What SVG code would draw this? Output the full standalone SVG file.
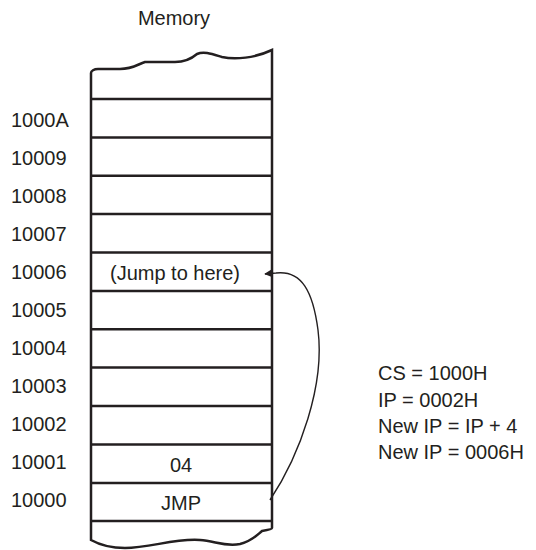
<svg xmlns="http://www.w3.org/2000/svg" width="536" height="550" viewBox="0 0 536 550">
<style>
text{font-family:"Liberation Sans",Arial,sans-serif;font-size:20px;fill:#231f20}
.c{text-anchor:middle}
.b{fill:none;stroke:#231f20;stroke-width:2.5}
.l{stroke:#231f20;stroke-width:2.5}
</style>
<defs>
<marker id="ah" viewBox="0 0 10 10" refX="9" refY="5" markerWidth="13" markerHeight="8" markerUnits="userSpaceOnUse" orient="auto">
<path d="M0,0 L10,5 L0,10 z" fill="#231f20"/>
</marker>
</defs>
<text class="c" x="174" y="25">Memory</text>
<g id="memory">
<path class="b" d="M272,50 C255,58 235,60 222,57 C212,54 204,51 197,54 C190,60 183,62 175,62 L145,62 C138,64 133,69 120,69 L98,69 C94,69 91,71 91,73 L91,540 C100,545 110,548 125,548 C150,548 175,538 200,540 C215,541 225,547 240,544 C252,541 257,535 262,531 C268,530 272,529 272,528 Z"/>
<line class="l" x1="91" y1="99" x2="272" y2="99"/>
<line class="l" x1="91" y1="137.4" x2="272" y2="137.4"/>
<line class="l" x1="91" y1="175.7" x2="272" y2="175.7"/>
<line class="l" x1="91" y1="214.1" x2="272" y2="214.1"/>
<line class="l" x1="91" y1="252.5" x2="272" y2="252.5"/>
<line class="l" x1="91" y1="290.9" x2="272" y2="290.9"/>
<line class="l" x1="91" y1="329.2" x2="272" y2="329.2"/>
<line class="l" x1="91" y1="367.6" x2="272" y2="367.6"/>
<line class="l" x1="91" y1="406" x2="272" y2="406"/>
<line class="l" x1="91" y1="444.4" x2="272" y2="444.4"/>
<line class="l" x1="91" y1="483" x2="272" y2="483"/>
<line class="l" x1="91" y1="521" x2="272" y2="521"/>
</g>
<g id="labels">
<text x="11" y="127">1000A</text>
<text x="11" y="165">10009</text>
<text x="11" y="203">10008</text>
<text x="11" y="241">10007</text>
<text x="11" y="279">10006</text>
<text x="11" y="317">10005</text>
<text x="11" y="355">10004</text>
<text x="11" y="393">10003</text>
<text x="11" y="431">10002</text>
<text x="11" y="469">10001</text>
<text x="11" y="507">10000</text>
</g>
<g id="cell-10006"><text class="c" x="175" y="280">(Jump to here)</text></g>
<g id="cell-10001"><text class="c" x="181" y="472">04</text></g>
<g id="cell-10000"><text class="c" x="181" y="510">JMP</text></g>
<g id="connectors">
<path d="M270,500 C300,455 325,385 318,330 C313,292 302,270 276,273 L265,274" fill="none" stroke="#231f20" stroke-width="1.4" marker-end="url(#ah)"/>
</g>
<g id="notes">
<text x="378" y="380">CS = 1000H</text>
<text x="378" y="407">IP = 0002H</text>
<text x="378" y="433">New IP = IP + 4</text>
<text x="378" y="459">New IP = 0006H</text>
</g>
</svg>
